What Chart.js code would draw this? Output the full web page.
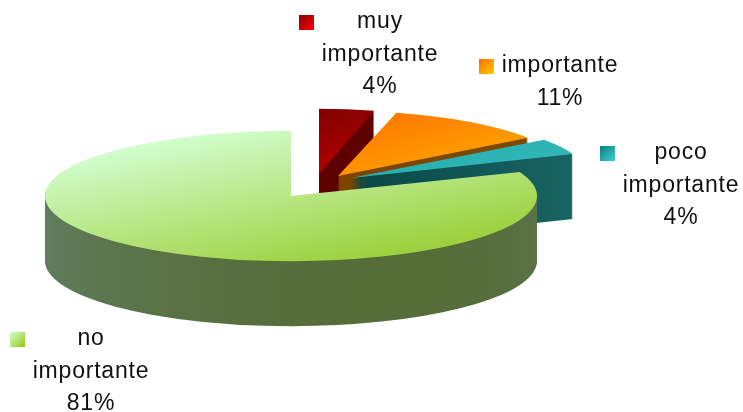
<!DOCTYPE html>
<html>
<head>
<meta charset="utf-8">
<style>
    html, body { margin: 0; padding: 0; background: #fff; }
    canvas { display: block; }
</style>
<script src="https://cdn.jsdelivr.net/npm/chart.js"></script>
</head>
<body>
<canvas id="pie" width="743" height="412"></canvas>
<script>
const categories = ['muy importante', 'importante', 'poco importante', 'no importante'];
const percentages = [4, 11, 4, 81];

// top face gradient (from, to), side wall gradient (from, to), legend key (from, to)
const topColors = [['#800000', '#e00000'], ['#ff7000', '#ffb800'], ['#18a4a4', '#38bcbc'], ['#d4ffd4', '#9ccf38']];
const wallColors = [['#5c0000', '#5c0000'], ['#7c4400', '#7c4c00'], ['#084646', '#1a6666'], ['#66806a', '#4a6018']];
const keyColors = [['#8c0000', '#ff0000'], ['#ff6a00', '#ffd000'], ['#0c7c7c', '#40d0d0'], ['#d4ffd4', '#90c810']];

const squash = 0.265;      // flattens the circle into the tilted ellipse
const depth = 65;          // height of the wall
// how far each slice is pulled out, and its width factor
const sliceShift = [[28, -22], [47, -20], [60, -18], [0, 0]];
const sliceWidth = [0.9, 0.955, 0.97, 1];

// where the label text and its key sit
const labelCenters = [[380, 22], [560, 66], [681, 153], [91, 339]];
const keyBoxes = [[299, 15], [479, 59], [600, 146], [10, 332]];
const lineHeight = 32.5;

function diagonal(ctx, x0, y0, x1, y1, pair) {
    const g = ctx.createLinearGradient(x0, y0, x1, y1);
    g.addColorStop(0, pair[0]);
    g.addColorStop(1, pair[1]);
    return g;
}

const pie3d = {
    id: 'pie3d',
    beforeDatasetDraw(chart) {
        const ctx = chart.ctx;
        const arcs = chart.getDatasetMeta(0).data;
        arcs.forEach((arc, i) => {
            const base = arc.options;
            const cx = arc.x, cy = arc.y, r = arc.outerRadius;
            const paint = (dy, fill) => {
                arc.options = Object.assign({}, base, { backgroundColor: fill });
                ctx.save();
                ctx.translate(cx + sliceShift[i][0], cy + sliceShift[i][1] + dy);
                ctx.scale(sliceWidth[i], squash);
                ctx.translate(-cx, -cy);
                arc.draw(ctx);
                ctx.restore();
            };
            // stack the wall from the bottom up, then the top face
            const wall = i === 3
                ? diagonal(ctx, cx - r, cy - r * 0.2, cx + r * 0.1, cy + r * 2.2, wallColors[i])
                : diagonal(ctx, cx, cy, cx + r, cy, wallColors[i]);
            for (let d = depth; d > 0; d--) {
                paint(d, wall);
            }
            const top = i === 3
                ? diagonal(ctx, cx - r * 0.6, cy - r * 0.9, cx + r * 0.65, cy + r * 0.8, topColors[i])
                : diagonal(ctx, cx, cy - r, cx + r, cy, topColors[i]);
            paint(0, top);
            arc.options = base;
        });
        return false;
    },
    afterDraw(chart) {
        const ctx = chart.ctx;
        ctx.save();
        ctx.font = '23px "Liberation Sans", Arial, sans-serif';
        ctx.letterSpacing = '0.8px';
        ctx.fillStyle = '#111';
        ctx.textAlign = 'center';
        ctx.textBaseline = 'middle';
        categories.forEach((name, i) => {
            const parts = name.split(' ');
            const lines = parts.concat(percentages[i] + '%');
            lines.forEach((line, n) => {
                ctx.fillText(line, labelCenters[i][0], labelCenters[i][1] + n * lineHeight);
            });
            const [kx, ky] = keyBoxes[i];
            ctx.fillStyle = diagonal(ctx, kx, ky, kx + 15, ky + 15, keyColors[i]);
            ctx.fillRect(kx, ky, 15, 15);
            ctx.fillStyle = '#111';
        });
        ctx.restore();
    }
};

new Chart(document.getElementById('pie'), {
    type: 'pie',
    data: {
        labels: categories,
        datasets: [{
            data: percentages,
            backgroundColor: topColors.map(c => c[0]),
            borderWidth: 0,
            clip: false
        }]
    },
    options: {
        responsive: false,
        animation: false,
        radius: 246,
        layout: { padding: { left: 0, top: 0, right: 161, bottom: 20 } },
        plugins: { legend: { display: false }, tooltip: { enabled: false } }
    },
    plugins: [pie3d]
});
</script>
</body>
</html>
